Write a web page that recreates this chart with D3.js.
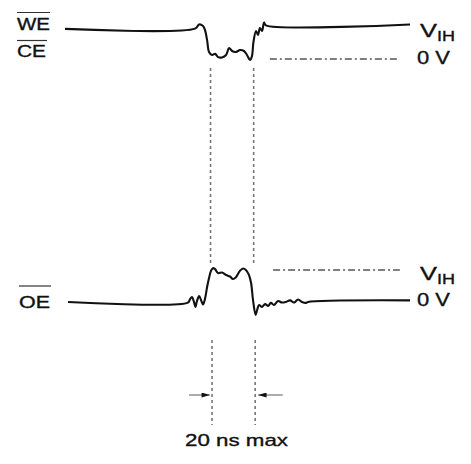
<!DOCTYPE html>
<html>
<head>
<meta charset="utf-8">
<script src="https://cdn.jsdelivr.net/npm/d3@7"></script>
<style>
  body { margin: 0; background: #fff; }
  text { font-family: "Liberation Sans", Arial, sans-serif; fill: #111; stroke: #111; stroke-width: 0.35; }
</style>
</head>
<body>
<script>
var w = 471;
var h = 464;

// time in ns, level in units of V_IH (0 = 0 V, 1 = V_IH)
var weCe = [[0,0.94],[60.3,0.95],[62.2,1.08],[64.0,1.03],[64.9,0.91],[65.9,0.59],[66.8,0.22],
  [68.2,0.125],[69.6,0.16],[71.0,0.06],[72.8,0.05],[74.7,0.125],[76.1,0.34],[77.5,0.25],
  [79.3,0.22],[81.2,0.28],[83.0,0.25],[84.4,0.125],[85.8,-0.03],[86.7,0.09],[87.4,0.53],
  [88.6,0.875],[89.5,0.75],[90.4,0.97],[91.4,0.875],[92.3,1.14],[93.2,1.05],[160,1.08]];

var oe = [[1.4,-0.03],[57.0,-0.05],[58.0,0.06],[58.9,0.13],[59.8,-0.03],[60.5,-0.19],[61.2,0],
  [62.2,0.16],[63.1,0.03],[64.0,-0.11],[64.9,0.06],[65.9,0.45],[66.8,0.74],[67.7,0.97],
  [68.6,1.06],[69.6,1.03],[71.0,0.90],[72.8,0.92],[74.7,0.84],[76.5,0.79],[77.9,0.71],
  [79.3,0.77],[81.2,0.98],[82.6,1.05],[83.9,1.0],[85.3,0.84],[86.3,0.58],[87.2,0.03],
  [88.4,-0.45],[89.1,-0.29],[90.0,-0.13],[91.4,-0.19],[92.8,-0.10],[94.2,-0.16],[95.5,-0.06],
  [96.9,-0.13],[98.8,0],[100.6,-0.05],[102.5,-0.03],[104.4,0.02],[106.2,-0.05],[108.1,0.05],
  [109.9,-0.03],[111.8,-0.06],[112.7,-0.03],[160,0.02]];

var edges = [67.5, 87.5];          // the two dotted markers, 20 ns apart
var topRef = [95, 155.3];          // dash-dot 0 V reference on WE/CE
var botRef = [96.5, 155.3];        // dash-dot V_IH reference on OE
var arrowFrom = [57.5, 101];       // arrows start (ns) and point at the edges
var arrowTo = [67.2, 89.6];
var note = "20 ns max";

var svg = d3.select('body').append('svg')
  .attr('width', w).attr('height', h);

var x = d3.scaleLinear().domain([0, 160]).range([65, 410]);
var yTop = d3.scaleLinear().domain([0, 1]).range([59, 27]);
var yBot = d3.scaleLinear().domain([0, 1]).range([301, 270]);

var lineTop = d3.line().x(d => x(d[0])).y(d => yTop(d[1])).curve(d3.curveCatmullRom.alpha(0.5));
var lineBot = d3.line().x(d => x(d[0])).y(d => yBot(d[1])).curve(d3.curveCatmullRom.alpha(0.5));

// dotted verticals
edges.forEach(function(t, i) {
  [[68, 266], [340, 425]].forEach(function(r) {
    svg.append('line')
      .attr('x1', x(t) + (r[0] > 300 ? 1.5 : 0)).attr('x2', x(t) + (r[0] > 300 ? 1.5 : 0))
      .attr('y1', r[0]).attr('y2', r[1])
      .attr('stroke', '#777').attr('stroke-width', 1.6)
      .attr('stroke-dasharray', '3,3');
  });
});

// dash-dot reference levels
svg.append('line')
  .attr('x1', x(topRef[0])).attr('x2', x(topRef[1]))
  .attr('y1', yTop(0)).attr('y2', yTop(0))
  .attr('stroke', '#555').attr('stroke-width', 1.5)
  .attr('stroke-dasharray', '7,3,2,3');
svg.append('line')
  .attr('x1', x(botRef[0])).attr('x2', x(botRef[1]))
  .attr('y1', yBot(1)).attr('y2', yBot(1))
  .attr('stroke', '#555').attr('stroke-width', 1.5)
  .attr('stroke-dasharray', '7,3,2,3');

// waveforms
svg.append('path').attr('d', lineTop(weCe))
  .attr('fill', 'none').attr('stroke', '#111').attr('stroke-width', 2.1)
  .attr('stroke-linejoin', 'round');
svg.append('path').attr('d', lineBot(oe))
  .attr('fill', 'none').attr('stroke', '#111').attr('stroke-width', 2.1)
  .attr('stroke-linejoin', 'round');

// arrows
svg.append('defs').append('marker')
  .attr('id', 'ah').attr('viewBox', '0 0 10 6')
  .attr('refX', 10).attr('refY', 3)
  .attr('markerWidth', 9).attr('markerHeight', 5)
  .attr('markerUnits', 'userSpaceOnUse')
  .attr('orient', 'auto')
  .append('path').attr('d', 'M0,0L10,3L0,6Z').attr('fill', '#111');

arrowFrom.forEach(function(t, i) {
  svg.append('line')
    .attr('x1', x(t)).attr('x2', x(arrowTo[i]))
    .attr('y1', 395).attr('y2', 395)
    .attr('stroke', '#777').attr('stroke-width', 1.2)
    .attr('marker-end', 'url(#ah)');
});

// labels
function label(txt, tx, ty, size, len) {
  return svg.append('text').attr('x', tx).attr('y', ty)
    .attr('font-size', size)
    .attr('textLength', len).attr('lengthAdjust', 'spacingAndGlyphs')
    .text(txt);
}
function bar(x1, x2, y) {
  svg.append('line').attr('x1', x1).attr('x2', x2).attr('y1', y).attr('y2', y)
    .attr('stroke', '#333').attr('stroke-width', 1.2);
}

label('WE', 17, 30, 17, 33); bar(17, 50, 12.5);
label('CE', 17, 57, 17, 29); bar(17, 47, 40.5);
label('OE', 19, 308, 17, 31); bar(19, 51, 286);

[[yTop(1), yTop(0)], [yBot(1), yBot(0)]].forEach(function(p) {
  label('V', 420, p[0] + 10, 19, 17);
  label('IH', 437, p[0] + 14, 14, 18);
  label('0 V', 417, p[1] + 5, 19, 33);
});

label(note, 185, 446, 17, 103);
</script>
</body>
</html>
